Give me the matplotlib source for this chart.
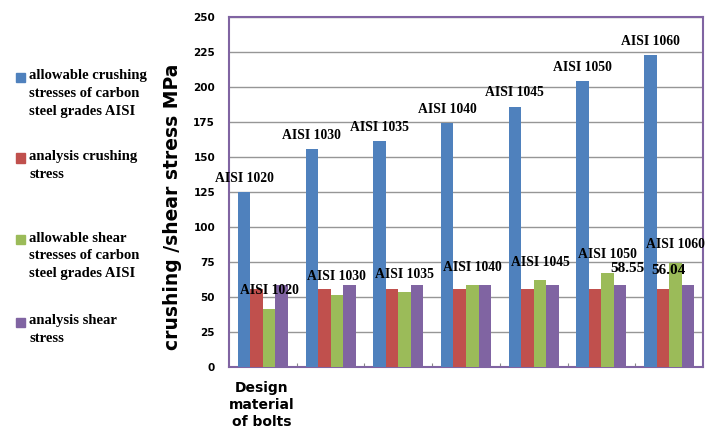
import matplotlib
matplotlib.use("Agg")
import matplotlib.pyplot as plt
from matplotlib.patches import Rectangle
import numpy as np

# steel grades and stresses (MPa)
grades = ["AISI 1020", "AISI 1030", "AISI 1035", "AISI 1040",
          "AISI 1045", "AISI 1050", "AISI 1060"]
allow_crush = [125, 155.5, 161.5, 174, 186, 204, 222.5]
analysis_crush = [56.04] * 7
allow_shear = [41.5, 51.5, 53.5, 58.5, 62, 67.5, 74.5]
analysis_shear = [58.55] * 7

series_names = [
    "allowable crushing\nstresses of carbon\nsteel grades AISI",
    "analysis crushing\nstress",
    "allowable shear\nstresses of carbon\nsteel grades AISI",
    "analysis shear\nstress",
]
colors = ["#4F81BD", "#C0504D", "#9BBB59", "#8064A2"]
series = [allow_crush, analysis_crush, allow_shear, analysis_shear]

fig = plt.figure(figsize=(7.17, 4.32), dpi=100)
ax = fig.add_axes([229 / 717, 1 - 367 / 432, (703 - 229) / 717, (367 - 17) / 432])

x = np.arange(len(grades))
w = 0.185
bars = []
for i, (vals, c) in enumerate(zip(series, colors)):
    b = ax.bar(x + (i - 1.5) * w, vals, w, color=c, zorder=3)
    bars.append(b)

serif = dict(family="Liberation Serif", weight="bold", fontsize=9.8)

# grade names over the allowable bars
for rect, g in zip(bars[0], grades):
    ax.annotate(g, (rect.get_x() + rect.get_width() / 2, rect.get_height()),
                xytext=(0, 10), textcoords="offset points", ha="center",
                va="center", **serif)
for rect, g in zip(bars[2], grades):
    ax.annotate(g, (rect.get_x() + rect.get_width() / 2, rect.get_height()),
                xytext=(0, 13), textcoords="offset points", ha="center",
                va="center", **serif)

# a couple of value labels
val_font = dict(serif, fontsize=11)
r = bars[3][5]
ax.annotate(f"{analysis_shear[5]:.2f}", (r.get_x() + r.get_width() / 2, r.get_height()),
            xytext=(5, 12), textcoords="offset points", ha="center", va="center", **val_font)
r = bars[1][6]
ax.annotate(f"{analysis_crush[6]:.2f}", (r.get_x() + r.get_width() / 2, r.get_height()),
            xytext=(4, 13), textcoords="offset points", ha="center", va="center", **val_font)

ax.set_xlim(-0.5, len(grades) - 0.5)
ax.set_ylim(0, 250)
ax.set_yticks(np.arange(0, 251, 25))
ax.set_yticklabels([str(v) for v in range(0, 251, 25)], fontsize=7.5, fontweight="bold")
ax.tick_params(axis="y", length=0, pad=10)
ax.set_xticks(np.arange(0.5, len(grades) - 0.5, 1))
ax.set_xticklabels([])
ax.tick_params(axis="x", direction="in", length=3, color="#888888")
ax.grid(axis="y", color="#969696", linewidth=1.0, zorder=0)
for s in ax.spines.values():
    s.set_color("#8064A2")
    s.set_linewidth(1.5)

fig.text(172 / 717, 0.521, "crushing /shear stress MPa", rotation=90,
         ha="center", va="center", fontsize=13.5, fontweight="bold")
fig.text(262 / 717, 1 - 405 / 432, "Design\nmaterial\nof bolts", ha="center",
         va="center", fontsize=10, fontweight="bold", linespacing=1.25)

# legend on the left
marker_y = [77.5, 158, 239.5, 322]
for name, c, my in zip(series_names, colors, marker_y):
    fig.patches.append(Rectangle((16 / 717, 1 - (my + 4.5) / 432), 9 / 717, 9 / 432,
                                 transform=fig.transFigure, color=c))
    fig.text(29 / 717, 1 - (my - 8) / 432, name, ha="left", va="top",
             family="Liberation Serif", weight="bold", fontsize=10.5, linespacing=1.45)

fig.savefig("out.png", dpi=100)
